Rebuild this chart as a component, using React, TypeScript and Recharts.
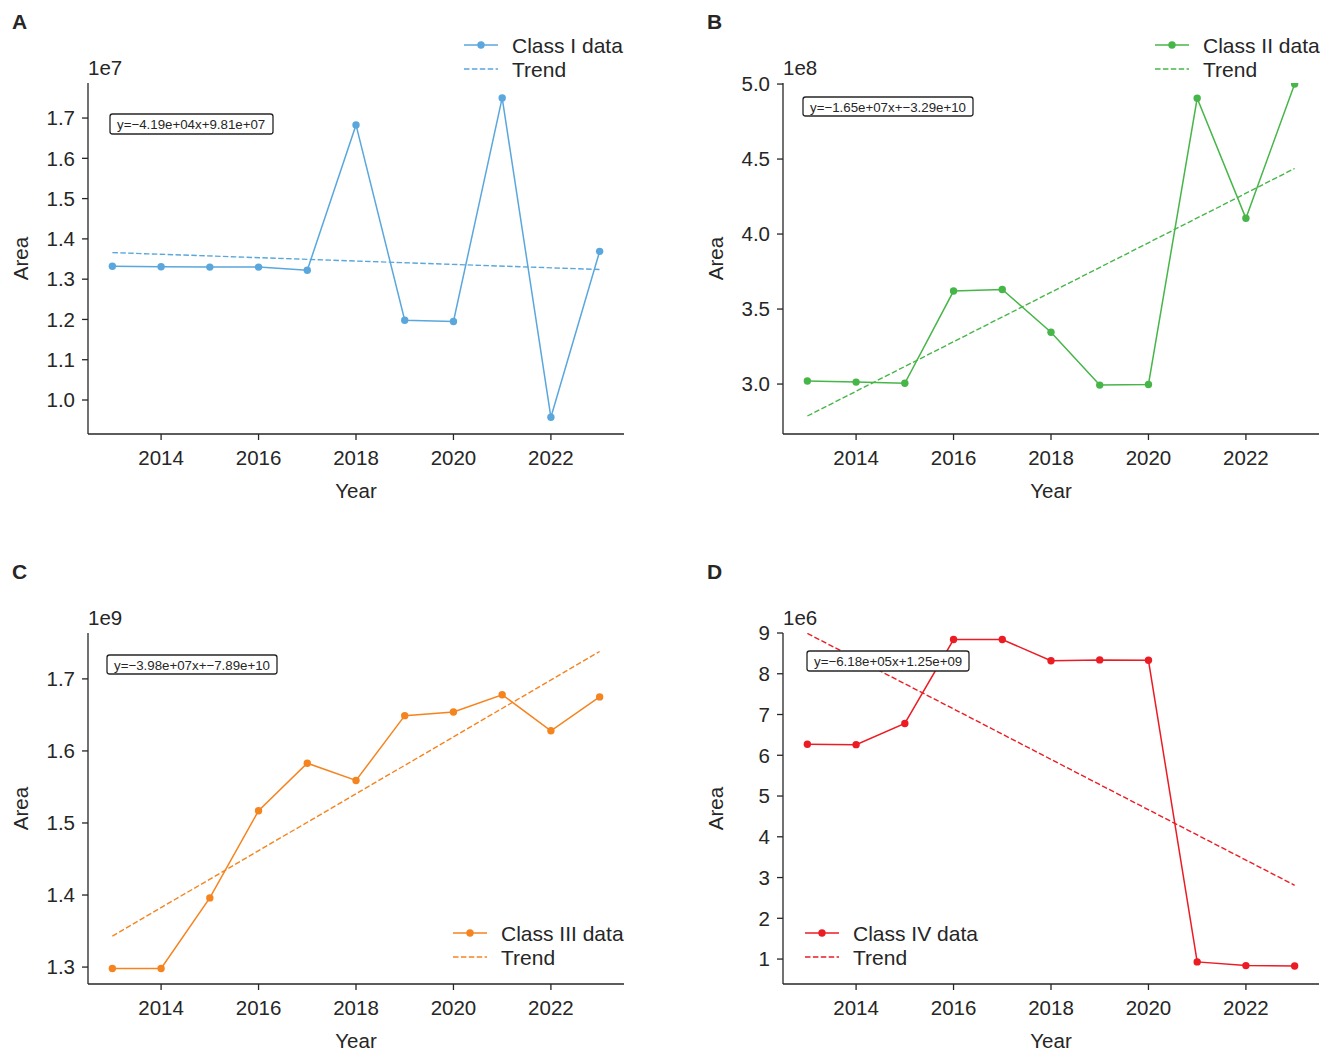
import React from "react";
import { LineChart, Line, XAxis, YAxis } from "recharts";

const FONT = '"Liberation Sans", Arial, Helvetica, sans-serif';
const INK = "#262626";

// yearly area per class (in units of the axis offset: 1e7, 1e8, 1e9, 1e6)
const years = [2013, 2014, 2015, 2016, 2017, 2018, 2019, 2020, 2021, 2022, 2023];
const classI = [1.332, 1.331, 1.33, 1.33, 1.322, 1.683, 1.198, 1.195, 1.75, 0.957, 1.369];
const classII = [3.02, 3.013, 3.005, 3.62, 3.63, 3.345, 2.993, 2.997, 4.905, 4.105, 5.0];
const classIII = [1.298, 1.298, 1.396, 1.517, 1.583, 1.559, 1.649, 1.654, 1.678, 1.628, 1.675];
const classIV = [6.27, 6.26, 6.78, 8.84, 8.84, 8.32, 8.34, 8.33, 0.93, 0.84, 0.83];

// linear fit, drawn between the first and last year
const trendYears = [2013, 2023];
const trendI = [1.366, 1.324];
const trendII = [2.787, 4.437];
const trendIII = [1.343, 1.738];
const trendIV = [8.99, 2.81];

const xTicks = [2014, 2016, 2018, 2020, 2022];

type PanelDef = {
  letter: string;
  name: string;
  color: string;
  values: number[];
  trend: number[];
  domain: [number, number];
  yTicks: number[];
  digits: number;
  offset: string;
  equation: string;
  left: number;
  top: number;
  box: { x: number; y: number; w: number; h: number };
  legend: { x: number; y: number };
};

const panels: PanelDef[] = [
  {
    letter: "A",
    name: "Class I data",
    color: "#5aa7dd",
    values: classI,
    trend: trendI,
    domain: [0.9156, 1.787],
    yTicks: [1.0, 1.1, 1.2, 1.3, 1.4, 1.5, 1.6, 1.7],
    digits: 1,
    offset: "1e7",
    equation: "y=\u22124.19e+04x+9.81e+07",
    left: 0,
    top: 0,
    box: { x: 110, y: 114, w: 163, h: 20 },
    legend: { x: 464, y: 45 },
  },
  {
    letter: "B",
    name: "Class II data",
    color: "#47b649",
    values: classII,
    trend: trendII,
    domain: [2.667, 5.007],
    yTicks: [3.0, 3.5, 4.0, 4.5, 5.0],
    digits: 1,
    offset: "1e8",
    equation: "y=\u22121.65e+07x+\u22123.29e+10",
    left: 695,
    top: 0,
    box: { x: 803, y: 97, w: 170, h: 19 },
    legend: { x: 1155, y: 45 },
  },
  {
    letter: "C",
    name: "Class III data",
    color: "#f5841f",
    values: classIII,
    trend: trendIII,
    domain: [1.2765, 1.7637],
    yTicks: [1.3, 1.4, 1.5, 1.6, 1.7],
    digits: 1,
    offset: "1e9",
    equation: "y=\u22123.98e+07x+\u22127.89e+10",
    left: 0,
    top: 550,
    box: { x: 107, y: 655, w: 170, h: 19 },
    legend: { x: 453, y: 933 },
  },
  {
    letter: "D",
    name: "Class IV data",
    color: "#ec1c24",
    values: classIV,
    trend: trendIV,
    domain: [0.388, 9.0],
    yTicks: [1, 2, 3, 4, 5, 6, 7, 8, 9],
    digits: 0,
    offset: "1e6",
    equation: "y=\u22126.18e+05x+1.25e+09",
    left: 695,
    top: 550,
    box: { x: 807, y: 651, w: 162, h: 20 },
    legend: { x: 805, y: 933 },
  },
];

const CW = 660;
const CH = 540;
const M = { top: 83, right: 36, left: 28, bottom: 46 };
const Y_W = 60;
const X_H = 60;

function Panel({ p }: { p: PanelDef }) {
  const series = years.map((year, i) => ({ year, v: p.values[i] }));
  const fit = trendYears.map((year, i) => ({ year, v: p.trend[i] }));
  const tickStyle = { fontSize: 20.5, fill: INK, fontFamily: FONT };
  return (
    <div style={{ position: "absolute", left: p.left, top: p.top }}>
      <LineChart width={CW} height={CH} margin={M}>
        <XAxis
          type="number"
          dataKey="year"
          domain={[2012.5, 2023.5]}
          ticks={xTicks}
          interval={0}
          allowDataOverflow
          height={X_H}
          tickSize={6}
          tickMargin={10}
          tick={tickStyle}
          axisLine={{ stroke: INK, strokeWidth: 1.3 }}
          tickLine={{ stroke: INK, strokeWidth: 1.3 }}
        />
        <YAxis
          type="number"
          dataKey="v"
          domain={p.domain}
          ticks={p.yTicks}
          interval={0}
          allowDataOverflow
          width={Y_W}
          tickSize={6}
          tickMargin={7}
          tick={tickStyle}
          tickFormatter={(v: number) => v.toFixed(p.digits)}
          axisLine={{ stroke: INK, strokeWidth: 1.3 }}
          tickLine={{ stroke: INK, strokeWidth: 1.3 }}
        />
        <Line
          data={fit}
          dataKey="v"
          type="linear"
          stroke={p.color}
          strokeWidth={1.4}
          strokeDasharray="5.5 2.4"
          dot={false}
          activeDot={false}
          isAnimationActive={false}
        />
        <Line
          data={series}
          dataKey="v"
          type="linear"
          stroke={p.color}
          strokeWidth={1.5}
          dot={{ r: 3.7, fill: p.color, stroke: p.color, strokeWidth: 0 }}
          activeDot={false}
          isAnimationActive={false}
        />
      </LineChart>
    </div>
  );
}

function Notes({ p }: { p: PanelDef }) {
  const px = p.left + M.left + Y_W;
  const pw = CW - M.left - Y_W - M.right;
  const py = p.top + M.top;
  const ph = CH - M.top - M.bottom - X_H;
  const cx = px + pw / 2;
  const cy = py + ph / 2;
  const lg = p.legend;
  return (
    <g fontFamily={FONT} fill={INK}>
      <text x={p.left + 12} y={p.top + 21} fontSize={21} fontWeight="bold" dominantBaseline="central">
        {p.letter}
      </text>
      <text x={px} y={py - 16} fontSize={20.5} dominantBaseline="central">
        {p.offset}
      </text>
      <text
        x={p.left + 20}
        y={cy}
        fontSize={20.5}
        textAnchor="middle"
        dominantBaseline="central"
        transform={`rotate(-90 ${p.left + 20} ${cy})`}
      >
        Area
      </text>
      <text x={cx} y={py + ph + 56} fontSize={20.5} textAnchor="middle" dominantBaseline="central">
        Year
      </text>
      <rect
        x={p.box.x}
        y={p.box.y}
        width={p.box.w}
        height={p.box.h}
        rx={2.5}
        fill="#fff"
        stroke={INK}
        strokeWidth={1.3}
      />
      <text x={p.box.x + 7} y={p.box.y + p.box.h / 2 + 0.5} fontSize={13.3} dominantBaseline="central">
        {p.equation}
      </text>
      <line x1={lg.x} x2={lg.x + 34} y1={lg.y} y2={lg.y} stroke={p.color} strokeWidth={1.5} />
      <circle cx={lg.x + 17} cy={lg.y} r={3.7} fill={p.color} />
      <text x={lg.x + 48} y={lg.y} fontSize={21} dominantBaseline="central">
        {p.name}
      </text>
      <line
        x1={lg.x}
        x2={lg.x + 34}
        y1={lg.y + 24}
        y2={lg.y + 24}
        stroke={p.color}
        strokeWidth={1.4}
        strokeDasharray="5.5 2.4"
      />
      <text x={lg.x + 48} y={lg.y + 24} fontSize={21} dominantBaseline="central">
        Trend
      </text>
    </g>
  );
}

export default function App() {
  return (
    <div
      style={{
        position: "absolute",
        left: 0,
        top: 0,
        width: 1333,
        height: 1052,
        background: "#fff",
        fontFamily: FONT,
      }}
    >
      {panels.map((p) => (
        <Panel key={p.letter} p={p} />
      ))}
      <svg
        width={1333}
        height={1052}
        style={{ position: "absolute", left: 0, top: 0, pointerEvents: "none" }}
      >
        {panels.map((p) => (
          <Notes key={p.letter} p={p} />
        ))}
      </svg>
    </div>
  );
}
